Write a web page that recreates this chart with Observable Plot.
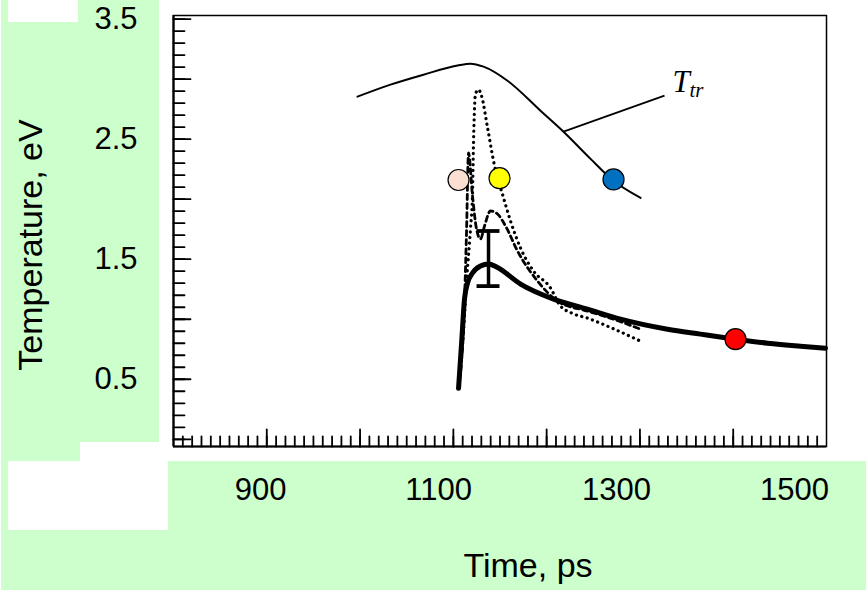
<!DOCTYPE html>
<html><head><meta charset="utf-8">
<script src="https://cdn.jsdelivr.net/npm/d3@7"></script>
<script src="https://cdn.jsdelivr.net/npm/@observablehq/plot@0.6"></script>
<style>
body{margin:0;background:#fff;}
#wrap{position:relative;width:866px;height:590px;overflow:hidden;background:#fff;}
.g{position:absolute;background:#ccffcc;}
.w{position:absolute;background:#fff;}
#chart{position:absolute;left:0;top:0;}
</style></head><body>
<div id="wrap">
<div class="g" style="left:1px;top:0;width:158px;height:442px"></div>
<div class="g" style="left:1px;top:442px;width:79px;height:20px"></div>
<div class="g" style="left:1px;top:461px;width:865px;height:129px"></div>
<div class="w" style="left:8px;top:0;width:70px;height:22px"></div>
<div class="w" style="left:8px;top:461px;width:160px;height:69px"></div>
<div id="chart"></div>
</div>
<script>
// T_tr curve (thin solid)
const ttrTime = [1008.8, 1045.9, 1083.0, 1121.2, 1135.9, 1150.5, 1177.4, 1214.5, 1240.4, 1270.8, 1296.6, 1327.0];
const ttrTemp = [2.854, 2.954, 3.037, 3.113, 3.129, 3.104, 2.987, 2.737, 2.562, 2.336, 2.153, 2.011];
// thick solid curve
const mainTime = [1122.4, 1126.0, 1129.1, 1132.5, 1138.1, 1147.1, 1156.1, 1165.1, 1192.1, 1229.2, 1267.4, 1304.5, 1357.3, 1394.4, 1433.7, 1469.7, 1506.8, 1534.9];
const mainTemp = [0.425, 0.82, 1.168, 1.301, 1.385, 1.443, 1.460, 1.435, 1.293, 1.168, 1.084, 1.001, 0.917, 0.876, 0.834, 0.800, 0.775, 0.759];
// dotted curve (tall peak)
const dotTime = [1122.4, 1128.0, 1131.4, 1135.9, 1138.1, 1139.2, 1141.5, 1144.9, 1148.2, 1155.0, 1161.7, 1173.0, 1180.8, 1192.1, 1206.7, 1225.8, 1236.0, 1250.0, 1267.4, 1289.9, 1327.0];
const dotTemp = [0.425, 0.90, 1.318, 1.76, 2.044, 2.462, 2.879, 2.912, 2.862, 2.595, 2.32, 2.011, 1.819, 1.593, 1.401, 1.26, 1.12, 1.05, 1.009, 0.942, 0.817];
// dashed curve
const dashTime = [1122.4, 1129.1, 1131.4, 1133.6, 1138.1, 1142.6, 1147.1, 1151.6, 1158.3, 1166.2, 1175.2, 1188.7, 1211.2, 1233.7, 1267.4, 1289.9, 1327.0];
const dashTemp = [0.425, 1.151, 1.735, 2.386, 2.027, 1.752, 1.669, 1.777, 1.902, 1.877, 1.777, 1.568, 1.318, 1.151, 1.068, 1.017, 0.917];
// error bar
const errTime = 1156.1, errLow = 1.276, errHigh = 1.735, errCap = 12.9;
// coloured markers
const markTime = [1122.4, 1168.5, 1296.6, 1433.7];
const markTemp = [2.160, 2.175, 2.165, 0.834];
const markColor = ["#FBE0D2", "#FFFF00", "#0070C0", "#FF0000"];
// label T_tr with leader line
const leader = {x1: 1240.4, y1: 2.562, x2: 1353.9, y2: 2.862};
const labelPos = {x: 1362.9, y: 2.975, subX: 1382.0, subY: 2.905};
// axes
const xDomain = [802, 1536];
const yDomain = [-0.06, 3.53];
const xTickLabels = [900, 1100, 1300, 1500];
const yTickLabels = [0.5, 1.5, 2.5, 3.5];
const yMinor = d3.range(0, 36).map(i => i / 10);
const yMajor = d3.range(0, 8).map(i => i / 2);
const xMinor = d3.range(1, 70).map(i => xDomain[0] + i * (xDomain[1] - xDomain[0]) / 70);
const xMajor = d3.range(1, 7).map(i => xDomain[0] + i * (xDomain[1] - xDomain[0]) / 7);

const zip = (xs, ys) => xs.map((x, i) => ({x, y: ys[i]}));
const ttr = zip(ttrTime, ttrTemp);
const mainC = zip(mainTime, mainTemp);
const dotC = zip(dotTime, dotTemp);
const dashC = zip(dashTime, dashTemp);
const marks = markTime.map((x, i) => ({x, y: markTemp[i], c: markColor[i]}));
const font = "Liberation Sans, Arial, sans-serif";
const tickShape = {draw(context, l) { context.moveTo(0, 0); context.lineTo(0, -l); }};

const plot = Plot.plot({
  width: 866, height: 590,
  marginLeft: 173, marginRight: 40, marginTop: 15, marginBottom: 144,
  style: {background: "transparent", fontFamily: font},
  x: {domain: xDomain},
  y: {domain: yDomain},
  marks: [
    Plot.frame({stroke: "black", strokeWidth: 1.5}),
    Plot.ruleX([xDomain[0]], {strokeWidth: 2.2}),
    Plot.ruleY([yDomain[0]], {strokeWidth: 2.2}),
    Plot.vector(yMinor, {y: d => d, frameAnchor: "left", rotate: 90, length: 11, anchor: "start", shape: tickShape, stroke: "black", strokeWidth: 1.8}),
    Plot.vector(yMajor, {y: d => d, frameAnchor: "left", rotate: 90, length: 17, anchor: "start", shape: tickShape, stroke: "black", strokeWidth: 1.8}),
    Plot.vector(xMinor, {x: d => d, frameAnchor: "bottom", length: 10, anchor: "start", shape: tickShape, stroke: "black", strokeWidth: 1.8}),
    Plot.vector(xMajor, {x: d => d, frameAnchor: "bottom", length: 17, anchor: "start", shape: tickShape, stroke: "black", strokeWidth: 1.8}),
    Plot.axisY({ticks: yTickLabels, tickSize: 0, tickPadding: 36, fontSize: 31, label: null, tickFormat: d => d.toFixed(1)}),
    Plot.axisX({ticks: xTickLabels, tickSize: 0, tickPadding: 31, fontSize: 31, label: null, tickFormat: d => String(d)}),
    Plot.text(["Time, ps"], {frameAnchor: "bottom", textAnchor: "middle", lineAnchor: "middle", dx: 28, dy: 120, fontSize: 34}),
    Plot.text(["Temperature, eV"], {frameAnchor: "left", textAnchor: "middle", lineAnchor: "middle", rotate: -90, dx: -142, dy: 14, fontSize: 34}),
    Plot.line(ttr, {x: "x", y: "y", stroke: "black", strokeWidth: 2, curve: "monotone-x"}),
    Plot.line(dotC, {x: "x", y: "y", stroke: "black", strokeWidth: 3.2, strokeDasharray: "0.1 5.5", strokeLinecap: "round", curve: "monotone-x"}),
    Plot.line(dashC, {x: "x", y: "y", stroke: "black", strokeWidth: 2.8, strokeDasharray: "5 4", curve: "monotone-x"}),
    Plot.line(mainC, {x: "x", y: "y", stroke: "black", strokeWidth: 5, curve: "monotone-x"}),
    Plot.ruleX([errTime], {y1: errLow, y2: errHigh, strokeWidth: 3.5}),
    Plot.ruleY([errLow, errHigh], {x1: errTime - errCap, x2: errTime + errCap, strokeWidth: 3.8}),
    Plot.link([leader], {x1: "x1", y1: "y1", x2: "x2", y2: "y2", stroke: "black", strokeWidth: 1.8}),
    Plot.text(["T"], {x: labelPos.x, y: labelPos.y, textAnchor: "start", fontSize: 31, fontStyle: "italic", fontFamily: "Liberation Serif, Times New Roman, serif"}),
    Plot.text(["tr"], {x: labelPos.subX, y: labelPos.subY, textAnchor: "start", fontSize: 21, fontStyle: "italic", fontFamily: "Liberation Serif, Times New Roman, serif"}),
    Plot.dot(marks, {x: "x", y: "y", r: 10.5, fill: "c", stroke: "black", strokeWidth: 1.2})
  ]
});
document.getElementById("chart").appendChild(plot);
</script>
</body></html>
